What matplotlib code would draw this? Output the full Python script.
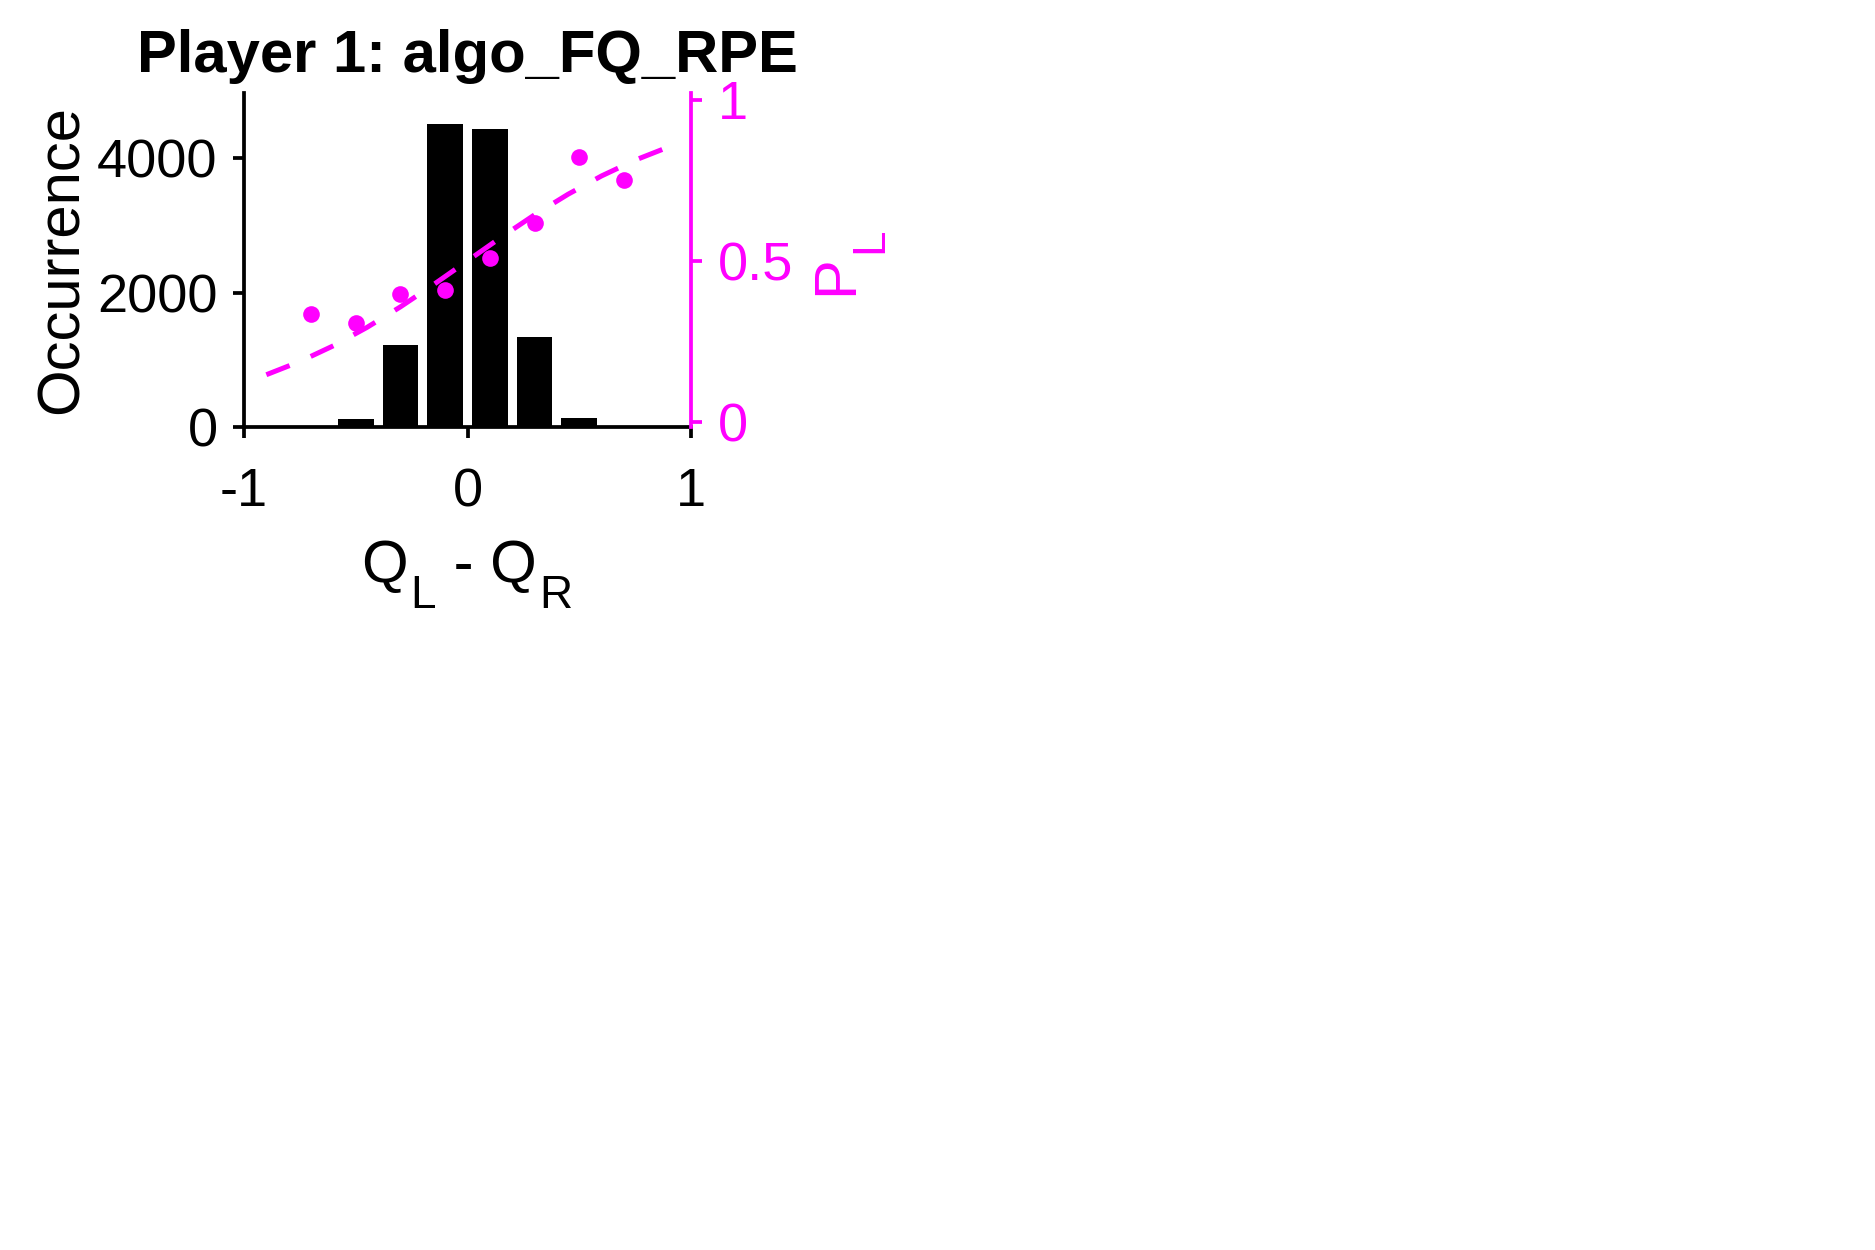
import matplotlib
matplotlib.use('Agg')
import matplotlib.pyplot as plt
import numpy as np

plt.rcParams['font.family'] = ['Liberation Sans', 'DejaVu Sans']

# histogram of Q_L - Q_R
bin_centers = [-0.7, -0.5, -0.3, -0.1, 0.1, 0.3, 0.5, 0.7]
counts = [0, 120, 1220, 4510, 4440, 1340, 140, 0]

# observed P(left) per bin
p_left = [0.334, 0.306, 0.397, 0.409, 0.510, 0.617, 0.824, 0.751]

# fitted curve
fit_x = [-0.9, -0.75, -0.6, -0.45, -0.3, -0.15, 0.0, 0.15, 0.3, 0.45, 0.6, 0.75, 0.9]
fit_p = [0.146, 0.187, 0.236, 0.293, 0.357, 0.427, 0.500, 0.573, 0.643, 0.707, 0.764, 0.813, 0.854]

magenta = '#FF00FF'
tick_fs = 39
label_fs = 43
sub_fs = 33
lw = 2.7

fig = plt.figure(figsize=(18.75, 12.5), dpi=100)
ax = fig.add_axes([244 / 1875, 1 - 427 / 1250, 447 / 1875, 334 / 1250])

ax.bar(bin_centers, counts, width=0.16, color='black', edgecolor='none', zorder=2)
ax.set_xlim(-1, 1)
ax.set_ylim(0, 4970)
ax.set_xticks([-1, 0, 1])
ax.set_xticklabels(['-1', '0', '1'])
ax.set_yticks([0, 2000, 4000])
for s in ['top', 'right']:
    ax.spines[s].set_visible(False)
for s in ['left', 'bottom']:
    ax.spines[s].set_linewidth(lw)
ax.tick_params(axis='both', direction='out', length=8, width=lw, labelsize=tick_fs)
ax.tick_params(axis='x', pad=21)
ax.tick_params(axis='y', pad=11)
ax.set_ylabel('Occurrence', fontsize=label_fs)
ax.yaxis.set_label_coords(-0.345, 0.5)
ax.set_title('Player 1: algo_FQ_RPE', fontsize=label_fs, fontweight='bold', pad=15)

# x label "Q_L - Q_R" built from pieces (MATLAB style low subscripts)
base_y = -0.464
sub_y = -0.542
t = ax.text(0.262, base_y, 'Q', transform=ax.transAxes, fontsize=label_fs,
            ha='left', va='baseline')
t = ax.annotate('L', xy=(1, sub_y), xycoords=(t, ax.transAxes), xytext=(1.5, 0),
                textcoords='offset points', fontsize=sub_fs, ha='left', va='baseline')
t = ax.annotate(' - Q', xy=(1, base_y), xycoords=(t, ax.transAxes), xytext=(1.5, 0),
                textcoords='offset points', fontsize=label_fs, ha='left', va='baseline')
ax.annotate('R', xy=(1, sub_y), xycoords=(t, ax.transAxes), xytext=(1.5, 0),
            textcoords='offset points', fontsize=sub_fs, ha='left', va='baseline')

ax2 = ax.twinx()
ax2.plot(fit_x, fit_p, color=magenta, lw=3.6, linestyle=(0, (5.0, 4.6)))
ax2.plot(bin_centers, p_left, 'o', color=magenta, markersize=12, markeredgewidth=0)
ax2.set_ylim(-0.0165, 1.0217)
ax2.set_yticks([0, 0.5, 1])
ax2.set_yticklabels(['0', '0.5', '1'])
for s in ['top', 'left', 'bottom']:
    ax2.spines[s].set_visible(False)
ax2.spines['right'].set_linewidth(lw)
ax2.spines['right'].set_color(magenta)
ax2.tick_params(axis='y', direction='out', length=8, width=lw, labelsize=tick_fs,
                colors=magenta, pad=11)

# right label "P_L", rotated, subscript drawn separately
tp = ax2.text(1.361, 0.395, 'P', transform=ax2.transAxes, fontsize=label_fs,
              color=magenta, rotation=90, rotation_mode='anchor',
              ha='left', va='baseline')
ax2.annotate('L', xy=(1.427, 1), xycoords=(ax2.transAxes, tp), xytext=(0, 1.5),
             textcoords='offset points', fontsize=sub_fs, color=magenta,
             rotation=90, rotation_mode='anchor', ha='left', va='baseline')

fig.savefig('out.png', dpi=100)
